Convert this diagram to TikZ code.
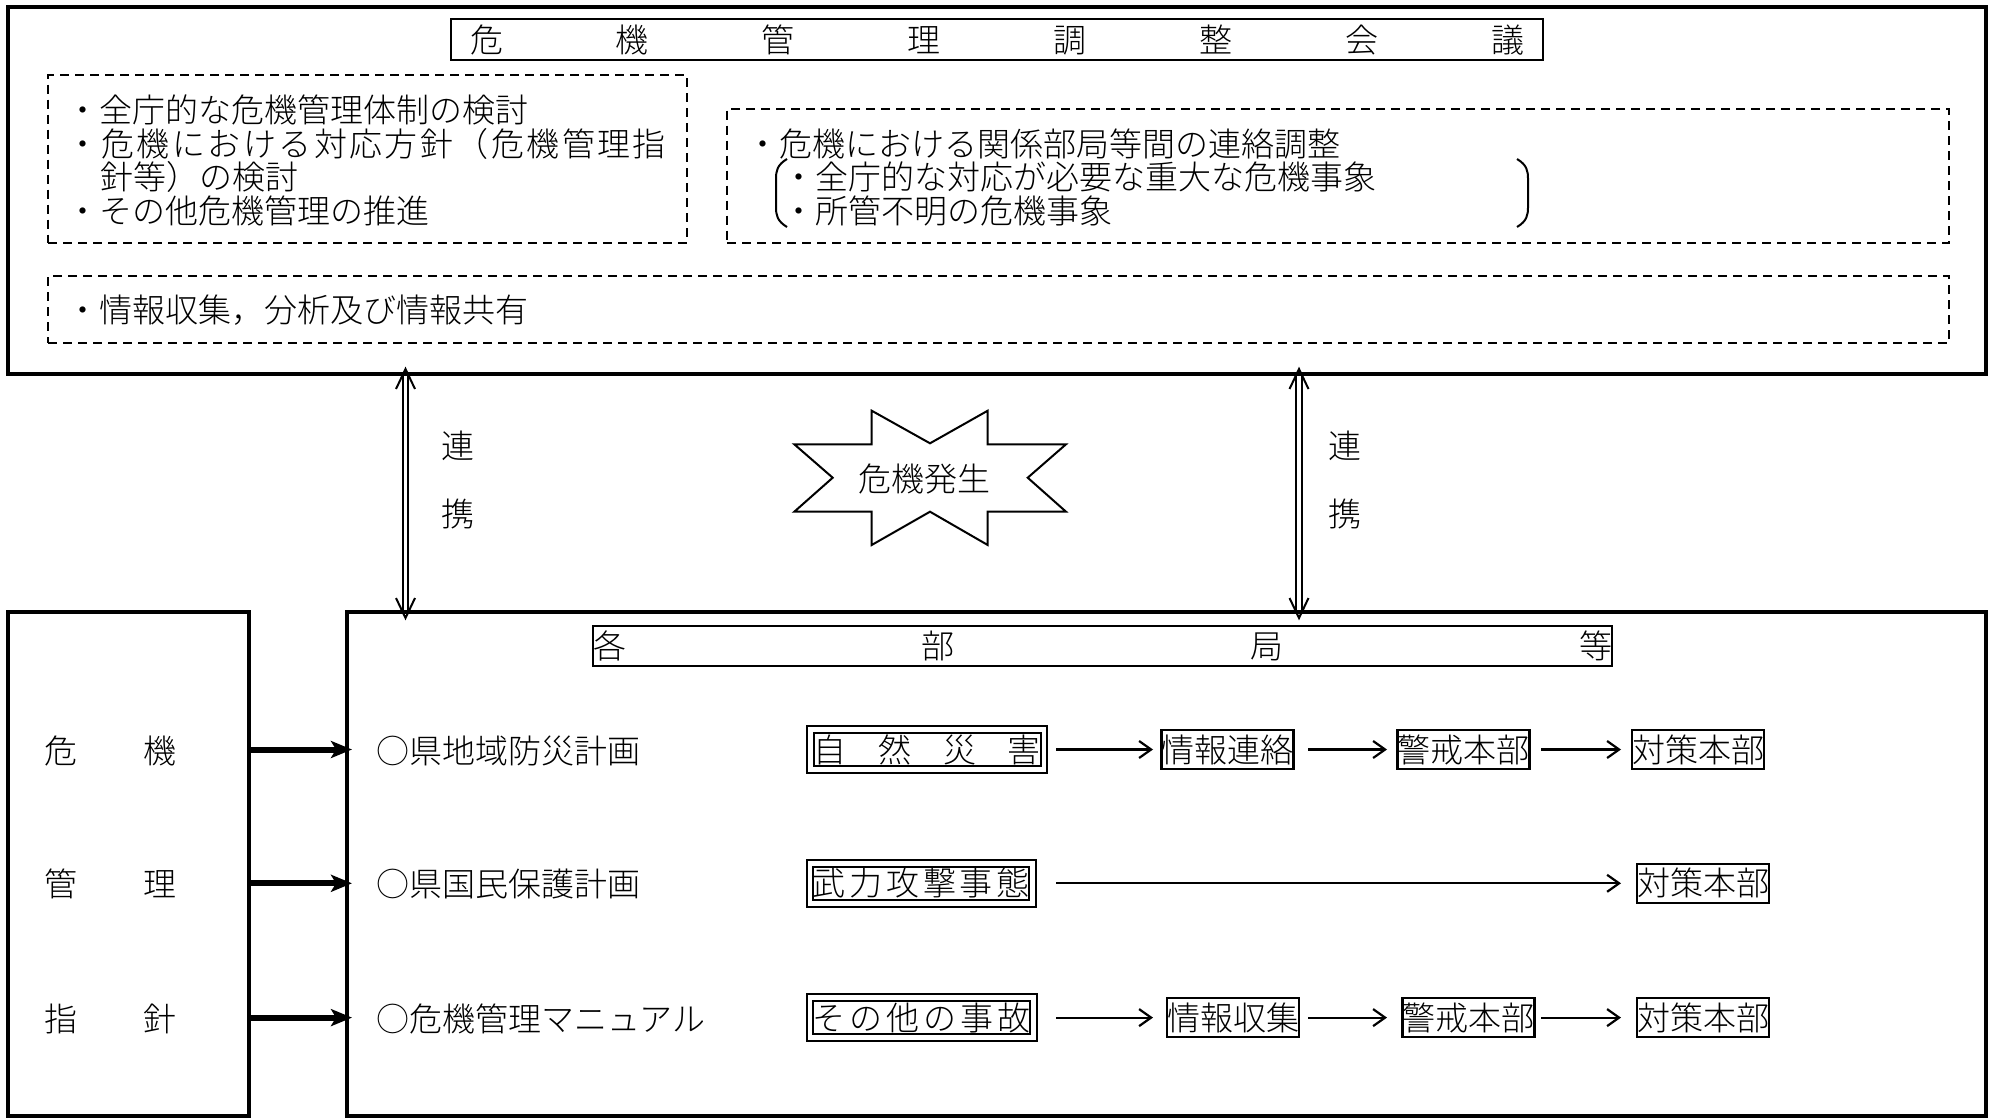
\documentclass[tikz,border=0pt]{standalone}
\usepackage{fontspec}
\setmainfont{Noto Sans CJK JP}[UprightFont={* Light}]
\usetikzlibrary{arrows.meta,calc}
\newcommand\spread[2]{\makebox[#1]{\spreadfirst#2\relax}}
\def\spreadfirst#1{#1\spreadrest}
\def\spreadrest#1{\ifx#1\relax\else\hfill#1\expandafter\spreadrest\fi}
\newcommand\dblarrow[2]{%
  \draw[line width=2pt] ($(#1)+(-2.8,6)$) -- ($(#2)+(-2.8,-6)$);
  \draw[line width=2pt] ($(#1)+(2.8,6)$) -- ($(#2)+(2.8,-6)$);
  \draw[line width=2pt] ($(#1)+(-9.5,20)$) -- (#1) -- ($(#1)+(9.5,20)$);
  \draw[line width=2pt] ($(#2)+(-9.5,-20)$) -- (#2) -- ($(#2)+(9.5,-20)$);}
\begin{document}
\begin{tikzpicture}[x=1pt,y=-1pt,
  txt/.style={inner sep=0pt, outer sep=0pt, text height=29pt, text depth=4pt, font=\fontsize{33pt}{34pt}\selectfont},
  bigbox/.style={draw, line width=4.5pt, inner sep=0pt, outer sep=0pt},
  thinbox/.style={draw, line width=2.2pt, inner sep=0pt, outer sep=0pt},
  dbox/.style={draw, double, double distance=4.5pt, line width=2.2pt, inner sep=0pt, outer sep=0pt},
  dbx/.style={draw, line width=2pt, dash pattern=on 9pt off 6pt, inner sep=0pt, outer sep=0pt},
  sbox/.style={thinbox, txt, minimum width=131pt, minimum height=39pt},
  thickarr/.style={line width=6pt, -{Stealth[length=21pt,width=17pt,inset=5pt]}, shorten >=-5pt},
  arr/.style={line width=2.2pt, -{Straight Barb[length=12pt,width=17pt]}}]
\fill[white] (0,0) rectangle (1993,1119);
\useasboundingbox (0,0) rectangle (1993,1119);

% top council box
\node[bigbox, minimum width=1978pt, minimum height=367pt] (topbox) at (997,190.5) {};
\node[thinbox, txt, minimum width=1092pt, minimum height=41pt] (title) at (997,39.5) {\spread{1054pt}{危機管理調整会議}};
\node[dbx, minimum width=639pt, minimum height=167.5pt] (dl) at (367.5,158.75) {};
\node[dbx, minimum width=1222pt, minimum height=134pt] (dr) at (1338,175.5) {};
\node[dbx, minimum width=1901pt, minimum height=67pt] (db) at (998.5,309.5) {};

\node[txt, anchor=west] (l1) at (66,110) {・全庁的な危機管理体制の検討};
\node[txt, anchor=west] (l2) at (66,143.5) {\spread{600pt}{・危機における対応方針（危機管理指}};
\node[txt, anchor=west] (l3) at (100,177) {針等）の検討};
\node[txt, anchor=west] (l4) at (66,210.5) {・その他危機管理の推進};
\node[txt, anchor=west] (r1) at (746,143.5) {・危機における関係部局等間の連絡調整};
\node[txt, anchor=west] (r2) at (782,177) {・全庁的な対応が必要な重大な危機事象};
\node[txt, anchor=west] (r3) at (782,210.5) {・所管不明の危機事象};
\node[txt, anchor=west] (b1) at (66,310) {・情報収集，分析及び情報共有};

\draw[line width=2pt] (787,159) .. controls (777,165) and (776,171) .. (776,179) -- (776,207) .. controls (776,215) and (777,221) .. (787,227);
\draw[line width=2pt] (1517,159) .. controls (1527,165) and (1528,171) .. (1528,179) -- (1528,207) .. controls (1528,215) and (1527,221) .. (1517,227);

% lower boxes
\node[bigbox, minimum width=241pt, minimum height=504pt] (lbox) at (128.5,864) {};
\node[bigbox, minimum width=1639pt, minimum height=504pt] (rbox) at (1166.5,864) {};
\node[thinbox, txt, minimum width=1019pt, minimum height=40pt] (kaku) at (1102.5,646) {\spread{1019pt}{各部局等}};

% cooperation arrows
\coordinate (xl) at (405.5,0);
\coordinate (xr) at (1299,0);
\coordinate (aLt) at ($(topbox.south -| xl)+(0,-5)$);
\coordinate (aLb) at ($(rbox.north -| xl)+(0,6)$);
\coordinate (aRt) at ($(topbox.south -| xr)+(0,-5)$);
\coordinate (aRb) at ($(rbox.north -| xr)+(0,6)$);
\dblarrow{aLt}{aLb}
\dblarrow{aRt}{aRb}
\node[txt] (ren1) at (458,446) {連};
\node[txt] (kei1) at (458,514) {携};
\node[txt] (ren2) at (1345,446) {連};
\node[txt] (kei2) at (1345,514) {携};

% crisis star
\draw[line width=2pt, line join=miter] (871.7,410.7) -- (930,443.3) -- (987.7,410.7) -- (987.7,444.3) -- (1066,444.3) -- (1027.7,477.7) -- (1066,511.7) -- (987.7,511.7) -- (987.7,545) -- (930,511.7) -- (871.7,545) -- (871.7,511.7) -- (794.3,511.7) -- (832.7,477.7) -- (794.3,444.3) -- (871.7,444.3) -- cycle;
\node[txt] (crisis) at (924,479) {危機発生};

% left guideline labels
\node[txt] (k1) at (110.5,750.5) {\spread{133pt}{危機}};
\node[txt] (k2) at (110.5,884.3) {\spread{133pt}{管理}};
\node[txt] (k3) at (110.5,1018.6) {\spread{133pt}{指針}};

% plans
\node[txt, anchor=west] (p1) at (376,750.5) {○県地域防災計画};
\node[txt, anchor=west] (p2) at (376,884.3) {○県国民保護計画};
\node[txt, anchor=west] (p3) at (376,1018.6) {○危機管理マニュアル};

% flows
\node[dbox, txt, minimum width=233.5pt, minimum height=40pt] (d1) at (927.25,749.5) {\spread{227pt}{自然災害}};
\node[dbox, txt, minimum width=222.5pt, minimum height=40pt] (d2) at (921.25,883.3) {\spread{217pt}{武力攻撃事態}};
\node[dbox, txt, minimum width=223.5pt, minimum height=40pt] (d3) at (921.75,1017.6) {\spread{218pt}{その他の事故}};

\draw[thickarr] (lbox.east |- d1.west) -- (rbox.west |- d1.west);
\draw[thickarr] (lbox.east |- d2.west) -- (rbox.west |- d2.west);
\draw[thickarr] (lbox.east |- d3.west) -- (rbox.west |- d3.west);

\node[sbox] (j1) at (1227.5,749.5) {情報連絡};
\node[sbox] (w1) at (1463.5,749.5) {警戒本部};
\node[sbox] (t1) at (1698,749.5) {対策本部};
\node[sbox] (t2) at (1703,883.3) {対策本部};
\node[sbox] (j3) at (1233,1017.6) {情報収集};
\node[sbox] (w3) at (1468.5,1017.6) {警戒本部};
\node[sbox] (t3) at (1703,1017.6) {対策本部};

\draw[arr, shorten <=12pt, shorten >=8.5pt] (d1.east) -- (j1.west);
\draw[arr, shorten <=14.5pt, shorten >=10.5pt] (j1.east) -- (w1.west);
\draw[arr, shorten <=11.5pt, shorten >=11pt] (w1.east) -- (t1.west);
\draw[arr, shorten <=23.5pt, shorten >=16pt] (d2.east) -- (t2.west);
\draw[arr, shorten <=22.5pt, shorten >=14pt] (d3.east) -- (j3.west);
\draw[arr, shorten <=9pt, shorten >=15.5pt] (j3.east) -- (w3.west);
\draw[arr, shorten <=6.5pt, shorten >=16pt] (w3.east) -- (t3.west);
\end{tikzpicture}
\end{document}
